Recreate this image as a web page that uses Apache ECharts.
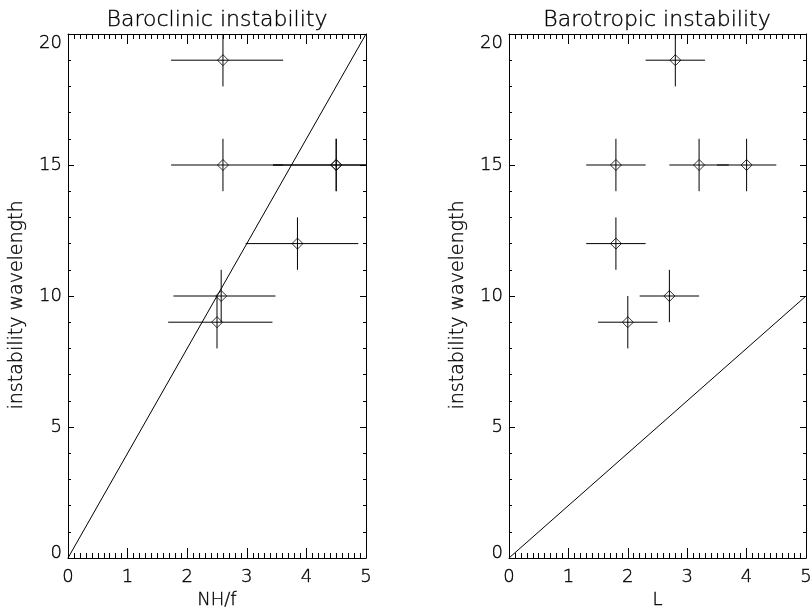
<!DOCTYPE html>
<html>
<head>
<meta charset="utf-8">
<script src="https://cdn.jsdelivr.net/npm/echarts@6/dist/echarts.min.js"></script>
<style>
  html, body { margin: 0; padding: 0; background: #fff; }
  #chart { width: 810px; height: 608px; }
</style>
</head>
<body>
<div id="chart"></div>
<script>
// Baroclinic panel: NH/f estimate with its range, wavelength with +/- 1
const clinicX    = [2.6, 2.6, 4.5, 4.5, 3.85, 2.57, 2.5];
const clinicXLo  = [1.73, 1.73, 3.44, 3.44, 2.98, 1.77, 1.68];
const clinicXHi  = [3.61, 3.61, 5.56, 5.56, 4.87, 3.48, 3.43];
const clinicY    = [19, 15, 15, 15, 12, 10, 9];
const clinicYErr = [1, 1, 1, 1, 1, 1, 1];

// Barotropic panel: L with +/- 0.5, wavelength with +/- 1
const tropicX    = [2.8, 1.8, 3.2, 4.0, 1.8, 2.7, 2.0];
const tropicXErr = [0.5, 0.5, 0.5, 0.5, 0.5, 0.5, 0.5];
const tropicY    = [19, 15, 15, 15, 12, 10, 9];
const tropicYErr = [1, 1, 1, 1, 1, 1, 1];

// Reference relations: wavelength = 4 NH/f and wavelength = 2 L
const clinicLine = [[0, 0], [5, 20]];
const tropicLine = [[0, 0], [5, 10]];

const titles = ['Baroclinic instability', 'Barotropic instability'];
const xNames = ['NH/f', 'L'];
const yName = 'instability wavelength';

const FONT = 'DejaVu Sans';
const INK = '#000';
// thin strokes, slightly thickened so the light face reads black
const TXT = { fontFamily: FONT, fontWeight: 200, color: INK, textBorderColor: INK, textBorderWidth: 0.35 };

const clinicRows = clinicX.map((x, i) =>
  [x, clinicY[i], clinicXLo[i], clinicXHi[i], clinicY[i] - clinicYErr[i], clinicY[i] + clinicYErr[i]]);
const tropicRows = tropicX.map((x, i) =>
  [x, tropicY[i], x - tropicXErr[i], x + tropicXErr[i], tropicY[i] - tropicYErr[i], tropicY[i] + tropicYErr[i]]);

// fixed plot boxes; labels may sit close to the canvas edge
const grids = [
  { left: 68, top: 34, width: 298, height: 524, outerBoundsMode: 'none', containLabel: false },
  { left: 509, top: 34, width: 297, height: 524, outerBoundsMode: 'none', containLabel: false }
];

function xAxisFor(gi, pos) {
  const bottom = pos === 'bottom';
  return {
    type: 'value', gridIndex: gi, position: pos, min: 0, max: 5, interval: 1,
    name: bottom ? xNames[gi] : '', nameLocation: 'middle', nameGap: 31,
    nameTextStyle: Object.assign({ fontSize: 18 }, TXT),
    axisLine: { show: true, onZero: false, lineStyle: { color: INK, width: 1 } },
    axisTick: { show: true, inside: true, length: 10, lineStyle: { color: INK } },
    minorTick: { show: true, splitNumber: 10, length: 5, lineStyle: { color: INK } },
    axisLabel: Object.assign({ show: bottom, margin: 10, fontSize: 18 }, TXT),
    splitLine: { show: false }, minorSplitLine: { show: false }
  };
}

function yAxisFor(gi, pos) {
  const left = pos === 'left';
  return {
    type: 'value', gridIndex: gi, position: pos, min: 0, max: 20, interval: 5,
    axisLine: { show: true, onZero: false, lineStyle: { color: INK, width: 1 } },
    axisTick: { show: true, inside: true, length: 6, lineStyle: { color: INK } },
    minorTick: { show: true, splitNumber: 5, length: 3, lineStyle: { color: INK } },
    axisLabel: Object.assign({
      show: left, margin: 6, fontSize: 18,
      verticalAlignMaxLabel: 'top',
      // the lowest label sits a little above the bottom axis
      formatter: v => (v === 0 ? '{lo|0}' : String(v)),
      rich: { lo: Object.assign({ fontSize: 18, padding: [0, 0, 10, 0] }, TXT) }
    }, TXT),
    splitLine: { show: false }, minorSplitLine: { show: false }
  };
}

// Cross-shaped error bars through each point
function errorBars(params, api) {
  const xlo = api.value(2), xhi = Math.min(api.value(3), 5);
  const ylo = Math.max(api.value(4), 0), yhi = Math.min(api.value(5), 20);
  const x = api.value(0), y = api.value(1);
  const a = api.coord([xlo, y]), b = api.coord([xhi, y]);
  const c = api.coord([x, ylo]), d = api.coord([x, yhi]);
  const style = { stroke: INK, lineWidth: 1 };
  return {
    type: 'group',
    children: [
      { type: 'line', shape: { x1: a[0], y1: a[1], x2: b[0], y2: b[1] }, style },
      { type: 'line', shape: { x1: c[0], y1: c[1], x2: d[0], y2: d[1] }, style }
    ]
  };
}

function panelSeries(gi, rows, line) {
  const xi = gi * 2, yi = gi * 2;
  return [
    {
      type: 'line', xAxisIndex: xi, yAxisIndex: yi, data: line, showSymbol: false,
      lineStyle: { color: INK, width: 1 }, silent: true, animation: false
    },
    {
      type: 'custom', xAxisIndex: xi, yAxisIndex: yi, data: rows, clip: true,
      encode: { x: 0, y: 1 }, renderItem: errorBars, silent: true, animation: false
    },
    {
      type: 'scatter', xAxisIndex: xi, yAxisIndex: yi, data: rows.map(r => [r[0], r[1]]),
      symbol: 'diamond', symbolSize: 11,
      itemStyle: { color: 'rgba(0,0,0,0)', borderColor: INK, borderWidth: 1 },
      silent: true, animation: false
    }
  ];
}

const textStyle = (text, size) => ({
  text, fontFamily: FONT, fontWeight: 200, fontSize: size, fill: INK,
  stroke: INK, lineWidth: 0.35, align: 'center', verticalAlign: 'middle'
});
const titleText = (text, x) => ({ type: 'text', x, y: 20, style: textStyle(text, 22) });
const yNameText = (x) => ({ type: 'text', x, y: 305, rotation: Math.PI / 2, style: textStyle(yName, 19) });

const chart = echarts.init(document.getElementById('chart'), null, { renderer: 'canvas' });
chart.setOption({
  backgroundColor: '#fff',
  animation: false,
  grid: grids,
  xAxis: [xAxisFor(0, 'bottom'), xAxisFor(0, 'top'), xAxisFor(1, 'bottom'), xAxisFor(1, 'top')],
  yAxis: [yAxisFor(0, 'left'), yAxisFor(0, 'right'), yAxisFor(1, 'left'), yAxisFor(1, 'right')],
  series: [
    ...panelSeries(0, clinicRows, clinicLine),
    ...panelSeries(1, tropicRows, tropicLine)
  ],
  graphic: [
    titleText(titles[0], 217),
    titleText(titles[1], 657),
    yNameText(17),
    yNameText(458)
  ]
});
</script>
</body>
</html>
